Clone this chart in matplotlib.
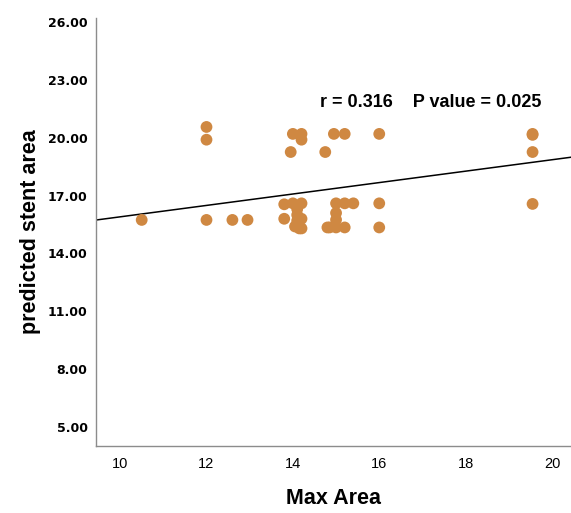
import matplotlib.pyplot as plt

plt.rcParams['font.family'] = ['Liberation Sans', 'DejaVu Sans']

# Max Area vs predicted stent area
max_area = [10.5, 12.0, 12.0, 12.0, 12.6, 12.95,
            13.8, 13.8, 13.95, 14.0, 14.0, 14.05, 14.1, 14.1, 14.1, 14.15, 14.2, 14.2, 14.2, 14.2, 14.2,
            14.75, 14.8, 14.85, 14.95, 15.0, 15.0, 15.0, 15.0, 15.2, 15.2, 15.2, 15.4,
            16.0, 16.0, 16.0, 19.55, 19.55, 19.55, 19.55]
stent_area = [15.74, 20.56, 19.9, 15.74, 15.74, 15.74,
              16.55, 15.8, 19.26, 20.2, 16.6, 15.4, 16.3, 16.0, 15.7, 15.3, 20.2, 19.9, 16.6, 15.8, 15.3,
              19.26, 15.35, 15.35, 20.2, 16.6, 16.1, 15.75, 15.35, 20.2, 16.6, 15.35, 16.6,
              20.2, 16.6, 15.35, 20.2, 20.15, 19.26, 16.57]

# fit line as drawn on the chart
fit_intercept = 12.94
fit_slope = 0.296

yticks = [5, 8, 11, 14, 17, 20, 23, 26]
xticks = [10, 12, 14, 16, 18, 20]

fig = plt.figure(figsize=(5.71, 5.13), dpi=100)
ax = fig.add_axes([0.168, 0.1306, 0.832, 0.834])

ax.scatter(max_area, stent_area, s=72, color='#cf8842', edgecolors='none', zorder=3)
ax.axline((0, fit_intercept), slope=fit_slope, color='black', linewidth=1.1, zorder=2)

ax.set_xlim(9.44, 20.44)
ax.set_ylim(4.02, 26.2)
ax.set_xticks(xticks)
ax.set_yticks(yticks)
ax.set_yticklabels(['%.2f' % v for v in yticks], fontweight='bold', fontsize=9,
                   family='DejaVu Sans')
ax.set_xticklabels([str(v) for v in xticks], fontsize=10.5)
ax.tick_params(axis='both', length=0)
ax.tick_params(axis='y', pad=6)
ax.tick_params(axis='x', pad=8)

for s in ['top', 'right']:
    ax.spines[s].set_visible(False)
for s in ['left', 'bottom']:
    ax.spines[s].set_color('#8c8c8c')
    ax.spines[s].set_linewidth(1.0)

ax.set_xlabel('Max Area', fontsize=15.5, fontweight='bold', labelpad=12)
ax.set_ylabel('predicted stent area', fontsize=15.5, fontweight='bold', labelpad=5)

ax.text(14.63, 21.85, 'r = 0.316    P value = 0.025', fontsize=13, fontweight='bold',
        ha='left', va='center')

fig.savefig('out.png', dpi=100)
